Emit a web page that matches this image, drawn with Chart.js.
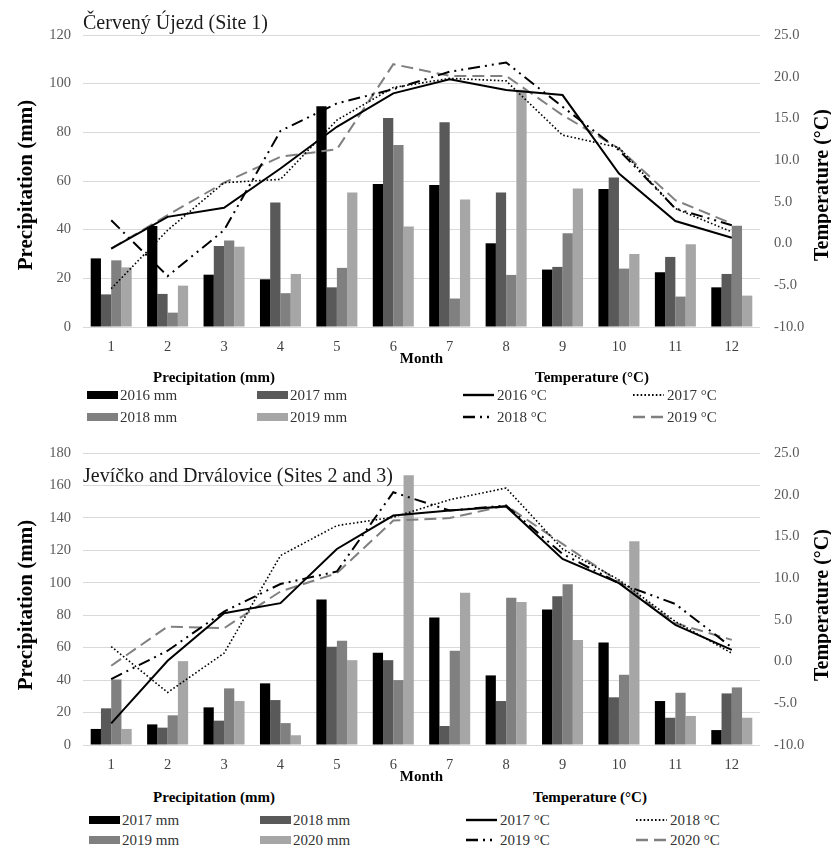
<!DOCTYPE html>
<html>
<head>
<meta charset="utf-8">
<script src="https://cdn.jsdelivr.net/npm/chart.js@4.4.1/dist/chart.umd.min.js"></script>
<style>
  body { margin: 0; background: #fff; }
  #wrap { position: relative; width: 831px; height: 852px; overflow: hidden;
          font-family: "Liberation Serif", "Times New Roman", serif; background: #fff; }
  canvas { position: absolute; left: 0; }
  .t { position: absolute; white-space: nowrap; line-height: 1; }
  .vc { transform: translateY(-50%); }
  .hc { transform: translate(-50%, -50%); }
  .rot { transform: translate(-50%, -50%) rotate(-90deg); }
</style>
</head>
<body>
<div id="wrap">
  <canvas id="c1" width="831" height="370" style="top:0px"></canvas>
  <canvas id="c2" width="831" height="370" style="top:418px"></canvas>
</div>
<script>
// ---------------- DATA ----------------
const months = ['1','2','3','4','5','6','7','8','9','10','11','12'];
const tempTicks = [-10, -5, 0, 5, 10, 15, 20, 25];

// Site 1: Červený Újezd
const site1Title = 'Červený Újezd (Site 1)';
const site1PrecLabels = ['2016 mm', '2017 mm', '2018 mm', '2019 mm'];
const site1TempLabels = ['2016 °C', '2017 °C', '2018 °C', '2019 °C'];
const s1Prec2016 = [28.2, 41.5, 21.5, 19.6, 90.7, 58.8, 58.4, 34.4, 23.6, 56.7, 22.5, 16.3];
const s1Prec2017 = [13.4, 13.6, 33.3, 51.2, 16.3, 85.9, 84.1, 55.3, 24.7, 61.4, 28.8, 21.8];
const s1Prec2018 = [27.4, 5.9, 35.5, 13.9, 24.3, 74.8, 11.7, 21.4, 38.5, 24.0, 12.5, 41.6];
const s1Prec2019 = [24.5, 17.0, 33.0, 21.8, 55.3, 41.3, 52.4, 97.5, 56.9, 30.0, 34.0, 12.9];
const s1Temp2016 = [-0.6, 3.2, 4.3, 9.0, 14.0, 18.0, 19.7, 18.4, 17.8, 8.4, 2.7, 0.7];
const s1Temp2017 = [-5.4, 1.6, 7.3, 7.7, 14.8, 18.7, 19.8, 19.5, 13.0, 11.5, 4.2, 1.4];
const s1Temp2018 = [2.8, -3.9, 1.6, 13.5, 16.8, 18.5, 20.6, 21.7, 16.4, 11.2, 4.2, 2.2];
const s1Temp2019 = [-0.6, 3.4, 7.3, 10.4, 11.3, 21.5, 20.1, 20.1, 15.4, 11.4, 5.2, 2.4];
const s1PrecMax = 120;

// Sites 2 and 3: Jevíčko and Drválovice
const site2Title = 'Jevíčko and Drválovice (Sites 2 and 3)';
const site2PrecLabels = ['2017 mm', '2018 mm', '2019 mm', '2020 mm'];
const site2TempLabels = ['2017 °C', '2018 °C', '2019 °C', '2020 °C'];
const s2Prec2017 = [9.9, 12.7, 23.2, 38.0, 89.7, 56.9, 78.6, 42.9, 83.5, 63.2, 27.1, 9.2];
const s2Prec2018 = [22.6, 10.7, 15.0, 27.7, 60.5, 52.3, 11.7, 27.1, 91.7, 29.4, 16.8, 31.8];
const s2Prec2019 = [40.4, 18.3, 34.9, 13.5, 64.2, 40.0, 58.1, 90.7, 99.1, 43.3, 32.2, 35.5];
const s2Prec2020 = [9.9, 51.7, 27.1, 6.0, 52.3, 166.3, 93.8, 88.1, 64.7, 125.6, 17.9, 16.8];
const s2Temp2017 = [-7.4, 0.1, 5.8, 7.0, 13.5, 17.5, 18.1, 18.6, 12.3, 9.4, 4.4, 1.4];
const s2Temp2018 = [1.8, -3.7, 1.0, 12.7, 16.3, 17.3, 19.4, 20.8, 13.5, 9.8, 4.8, 1.0];
const s2Temp2019 = [-2.1, 1.3, 6.0, 9.3, 10.8, 20.3, 18.1, 18.7, 12.9, 9.4, 6.9, 1.7];
const s2Temp2020 = [-0.5, 4.2, 4.0, 8.4, 10.6, 16.9, 17.2, 18.7, 14.1, 9.6, 4.6, 2.6];
const s2PrecMax = 180;

const precAxisTitle = 'Precipitation (mm)';
const tempAxisTitle = 'Temperature (°C)';
const xAxisTitle = 'Month';

// ---------------- STYLES ----------------
const FONT = '"Liberation Serif", "Times New Roman", serif';
const barColors = ['#000000', '#595959', '#808080', '#a6a6a6'];
const lineStyles = [
  { color: '#000000', width: 2, dash: [] },
  { color: '#000000', width: 1.6, dash: [1.6, 2.2] },
  { color: '#000000', width: 2, dash: [12, 5, 2, 5, 2, 5] },
  { color: '#808080', width: 2, dash: [12, 6] }
];

function makeChart(canvasId, precSeries, tempSeries, precLabels, tempLabels, yMax) {
  const datasets = [];
  tempSeries.forEach((d, i) => {
    const s = lineStyles[i];
    datasets.push({
      type: 'line', label: tempLabels[i], data: d, yAxisID: 'y1',
      borderColor: s.color, borderWidth: s.width, borderDash: s.dash,
      pointRadius: 0, tension: 0, fill: false, order: 0, borderCapStyle: 'butt'
    });
  });
  precSeries.forEach((d, i) => {
    datasets.push({
      type: 'bar', label: precLabels[i], data: d, yAxisID: 'y',
      backgroundColor: barColors[i], borderWidth: 0,
      categoryPercentage: 0.727, barPercentage: 1.0, order: 1
    });
  });
  return new Chart(document.getElementById(canvasId), {
    type: 'bar',
    data: { labels: months, datasets },
    options: {
      responsive: false, animation: false,
      layout: { padding: { top: 35, left: 0, right: 0, bottom: 0 } },
      plugins: { legend: { display: false }, tooltip: { enabled: false } },
      scales: {
        x: {
          offset: true,
          grid: { display: false, drawTicks: false },
          border: { display: false },
          ticks: { color: '#404040', font: { family: FONT, size: 14.5 }, padding: 11, maxRotation: 0 },
          title: { display: true, text: xAxisTitle, color: '#000',
                   font: { family: FONT, size: 15, weight: 'bold' }, padding: { top: 0, bottom: 2 } },
          afterFit(s) { s.height = 43; }
        },
        y: {
          position: 'left', min: 0, max: yMax,
          ticks: { stepSize: 20, color: '#595959', font: { family: FONT, size: 14.5 }, padding: 12 },
          grid: { color: '#d9d9d9', lineWidth: 1, drawTicks: false },
          border: { display: false },
          afterFit(s) { s.width = 83; }
        },
        y1: {
          position: 'right', min: -10, max: 25,
          afterBuildTicks(s) { s.ticks = tempTicks.map(v => ({ value: v })); },
          ticks: { color: '#595959', font: { family: FONT, size: 14.5 }, padding: 14,
                   callback: v => Number(v).toFixed(1) },
          grid: { display: false, drawTicks: false },
          border: { display: false },
          afterFit(s) { s.width = 71; }
        }
      }
    }
  });
}

makeChart('c1', [s1Prec2016, s1Prec2017, s1Prec2018, s1Prec2019],
          [s1Temp2016, s1Temp2017, s1Temp2018, s1Temp2019],
          site1PrecLabels, site1TempLabels, s1PrecMax);
makeChart('c2', [s2Prec2017, s2Prec2018, s2Prec2019, s2Prec2020],
          [s2Temp2017, s2Temp2018, s2Temp2019, s2Temp2020],
          site2PrecLabels, site2TempLabels, s2PrecMax);

// ---------------- HTML TEXT: titles & legends ----------------
const wrap = document.getElementById('wrap');
function addText(txt, x, y, cls, style) {
  const d = document.createElement('div');
  d.className = 't ' + cls;
  d.textContent = txt;
  d.style.left = x + 'px'; d.style.top = y + 'px';
  Object.assign(d.style, style || {});
  wrap.appendChild(d);
  return d;
}
function lineSample(x, y, w, s) {
  const ns = 'http://www.w3.org/2000/svg';
  const svg = document.createElementNS(ns, 'svg');
  svg.setAttribute('width', w); svg.setAttribute('height', 8);
  svg.style.position = 'absolute'; svg.style.left = x + 'px'; svg.style.top = (y - 4) + 'px';
  const l = document.createElementNS(ns, 'line');
  l.setAttribute('x1', 0); l.setAttribute('x2', w); l.setAttribute('y1', 4); l.setAttribute('y2', 4);
  l.setAttribute('stroke', s.color); l.setAttribute('stroke-width', s.width + 0.4);
  if (s.dash.length) l.setAttribute('stroke-dasharray', s.dash.join(' '));
  svg.appendChild(l);
  wrap.appendChild(svg);
}
function box(x, y, w, h, c) {
  const d = document.createElement('div');
  Object.assign(d.style, { position: 'absolute', left: x + 'px', top: (y - h / 2) + 'px',
                           width: w + 'px', height: h + 'px', background: c });
  wrap.appendChild(d);
}

function buildSide(p) {
  // chart title
  addText(p.title, 83, p.titleY, 'vc', { fontSize: '20px', color: '#1a1a1a' });
  // axis titles
  addText(precAxisTitle, 25, p.axisTitleY, 'rot', { fontSize: '21px', fontWeight: 'bold', color: '#000' });
  addText(tempAxisTitle, 821, p.axisTitleY, 'rot', { fontSize: '20px', fontWeight: 'bold', color: '#000' });
  // legend group titles
  addText(precAxisTitle, p.precTitleX, p.legTitleY, 'hc', { fontSize: '15px', fontWeight: 'bold', color: '#000' });
  addText(tempAxisTitle, p.tempTitleX, p.legTitleY, 'hc', { fontSize: '15px', fontWeight: 'bold', color: '#000' });
  // precipitation boxes 2x2
  p.precLabels.forEach((lab, i) => {
    const col = i % 2, row = Math.floor(i / 2);
    const bx = p.boxX[col], y = p.rowY[row];
    box(bx, y, 31, 8, barColors[i]);
    addText(lab, bx + 33, y, 'vc', { fontSize: '15px', color: '#333' });
  });
  // temperature lines 2x2
  p.tempLabels.forEach((lab, i) => {
    const col = i % 2, row = Math.floor(i / 2);
    const lx = p.lineX[col], y = p.rowY[row];
    lineSample(lx, y, 31, lineStyles[i]);
    addText(lab, lx + 34, y, 'vc', { fontSize: '15px', color: '#333' });
  });
}

buildSide({ title: site1Title, titleY: 22, axisTitleY: 185,
            legTitleY: 377, precTitleX: 214, tempTitleX: 592,
            rowY: [395, 417], boxX: [87, 257], lineX: [463, 633],
            precLabels: site1PrecLabels, tempLabels: site1TempLabels });
buildSide({ title: site2Title, titleY: 475, axisTitleY: 605,
            legTitleY: 797, precTitleX: 214, tempTitleX: 590,
            rowY: [820, 840], boxX: [89, 260], lineX: [466, 636],
            precLabels: site2PrecLabels, tempLabels: site2TempLabels });
</script>
</body>
</html>
